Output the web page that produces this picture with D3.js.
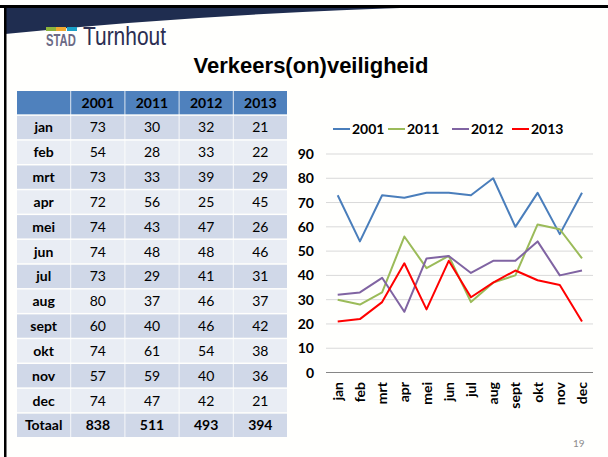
<!DOCTYPE html>
<html><head><meta charset="utf-8">
<script src="https://cdn.jsdelivr.net/npm/d3@7"></script>
<style>
html,body{margin:0;padding:0;background:#fff;}
svg{display:block;}
</style></head>
<body>
<script>
const months = ["jan","feb","mrt","apr","mei","jun","jul","aug","sept","okt","nov","dec"];
const years = ["2001","2011","2012","2013"];
const v2001 = [73,54,73,72,74,74,73,80,60,74,57,74];
const v2011 = [30,28,33,56,43,48,29,37,40,61,59,47];
const v2012 = [32,33,39,25,47,48,41,46,46,54,40,42];
const v2013 = [21,22,29,45,26,46,31,37,42,38,36,21];
const totals = [838,511,493,394];
const yTicks = [0,10,20,30,40,50,60,70,80,90];
const colors = ["#4A7EBB","#9BBB59","#8064A2","#FF0000"];
const series = [v2001,v2011,v2012,v2013];

const W=608,H=457;
const svg=d3.select("body").append("svg").attr("width",W).attr("height",H);
svg.append("rect").attr("width",W).attr("height",H).attr("fill","#fffffd");
// header band
svg.append("path").attr("d","M5,7 L430,7 Q200,14 5,34 Z").attr("fill","#1f2d50");
svg.append("rect").attr("x",0).attr("y",5).attr("width",W).attr("height",3).attr("fill","#000");
svg.append("rect").attr("x",4).attr("y",5).attr("width",2.5).attr("height",H-5).attr("fill","#000");

// logo
svg.append("rect").attr("x",46).attr("y",27).attr("width",10).attr("height",4).attr("fill","#8cb43c");
svg.append("rect").attr("x",56).attr("y",27).attr("width",10).attr("height",4).attr("fill","#f0a830");
svg.append("rect").attr("x",67).attr("y",27).attr("width",10).attr("height",4).attr("fill","#1aa0c8");
svg.append("text").attr("transform","translate(46,46) scale(0.9,1.3)").text("STAD")
  .attr("font-family","Liberation Sans").attr("font-weight","bold")
  .attr("font-size",12.5).attr("fill","#6b6a85");
svg.append("text").attr("x",83).attr("y",45).text("Turnhout")
  .attr("font-family","Liberation Sans Narrow, Liberation Sans")
  .attr("font-size",25).attr("fill","#2b2e52").attr("textLength",83).attr("lengthAdjust","spacingAndGlyphs");

// title
svg.append("text").attr("x",311).attr("y",73).attr("text-anchor","middle")
  .text("Verkeers(on)veiligheid")
  .attr("font-family","Liberation Sans, Arial").attr("font-weight","bold").attr("font-size",22).attr("fill","#000");

// table
const tf="Lato, Calibri, sans-serif";
const colX=d3.scaleBand().domain(["m"].concat(years)).range([17,287]).paddingInner(0.015);
const rowsLabels=["h"].concat(months).concat(["Totaal"]);
const rowY=d3.scaleBand().domain(rowsLabels).range([91,437]).paddingInner(0.06);
const tg=svg.append("g");
rowsLabels.forEach((r,i)=>{
  const fill = i===0 ? "#4F81BD" : (i%2===1 ? "#D0D8E8" : "#E9EDF4");
  colX.domain().forEach((c,j)=>{
    tg.append("rect").attr("x",colX(c)).attr("y",rowY(r)).attr("width",colX.bandwidth()).attr("height",rowY.bandwidth()).attr("fill",fill);
    let txt="";
    let bold=false;
    if(i===0){ if(j>0){txt=years[j-1];bold=true;} }
    else if(r==="Totaal"){ txt = j===0? "Totaal" : String(totals[j-1]); bold=true; }
    else { const mi=i-1; txt = j===0? months[mi] : String(series[j-1][mi]); bold = j===0; }
    if(txt) tg.append("text").attr("x",colX(c)+colX.bandwidth()/2).attr("y",rowY(r)+rowY.bandwidth()/2+5)
      .attr("text-anchor","middle").attr("font-family",tf).attr("font-size",14)
      .attr("font-weight",bold?"bold":"normal").attr("fill","#000").text(txt);
  });
});

// chart
const x=d3.scalePoint().domain(months).range([337.7,582]);
const y=d3.scaleLinear().domain([0,90]).range([372.5,154]);
const cg=svg.append("g");
cg.selectAll(".grid").data(yTicks.filter(d=>d>0)).enter().append("line")
  .attr("x1",326).attr("x2",593).attr("y1",d=>y(d)).attr("y2",d=>y(d)).attr("stroke","#d9d9d9").attr("stroke-width",1);
cg.append("line").attr("x1",326).attr("x2",593).attr("y1",y(0)).attr("y2",y(0)).attr("stroke","#868686").attr("stroke-width",1);
cg.selectAll(".yl").data(yTicks).enter().append("text")
  .attr("x",314).attr("y",d=>y(d)+5).attr("text-anchor","end")
  .attr("font-family",tf).attr("font-weight","bold").attr("font-size",14).text(d=>d);
cg.selectAll(".xl").data(months).enter().append("text")
  .attr("transform",d=>`translate(${x(d)+5},382) rotate(-90)`).attr("text-anchor","end")
  .attr("font-family",tf).attr("font-weight","bold").attr("font-size",14).text(d=>d);
const line=d3.line().x((d,i)=>x(months[i])).y(d=>y(d));
series.forEach((s,k)=>{
  cg.append("path").datum(s).attr("d",line).attr("fill","none").attr("stroke",colors[k]).attr("stroke-width",2).attr("stroke-linejoin","round");
});
// legend
const legX=[333,388,452,512];
years.forEach((yr,k)=>{
  cg.append("line").attr("x1",legX[k]).attr("x2",legX[k]+17).attr("y1",129).attr("y2",129).attr("stroke",colors[k]).attr("stroke-width",2);
  cg.append("text").attr("x",legX[k]+19).attr("y",134).attr("font-family",tf).attr("font-weight","bold").attr("font-size",14).text(yr);
});
svg.append("text").attr("x",573).attr("y",447).attr("font-family",tf).attr("font-size",10).attr("fill","#8c8c8c").text("19");
</script>
</body></html>
